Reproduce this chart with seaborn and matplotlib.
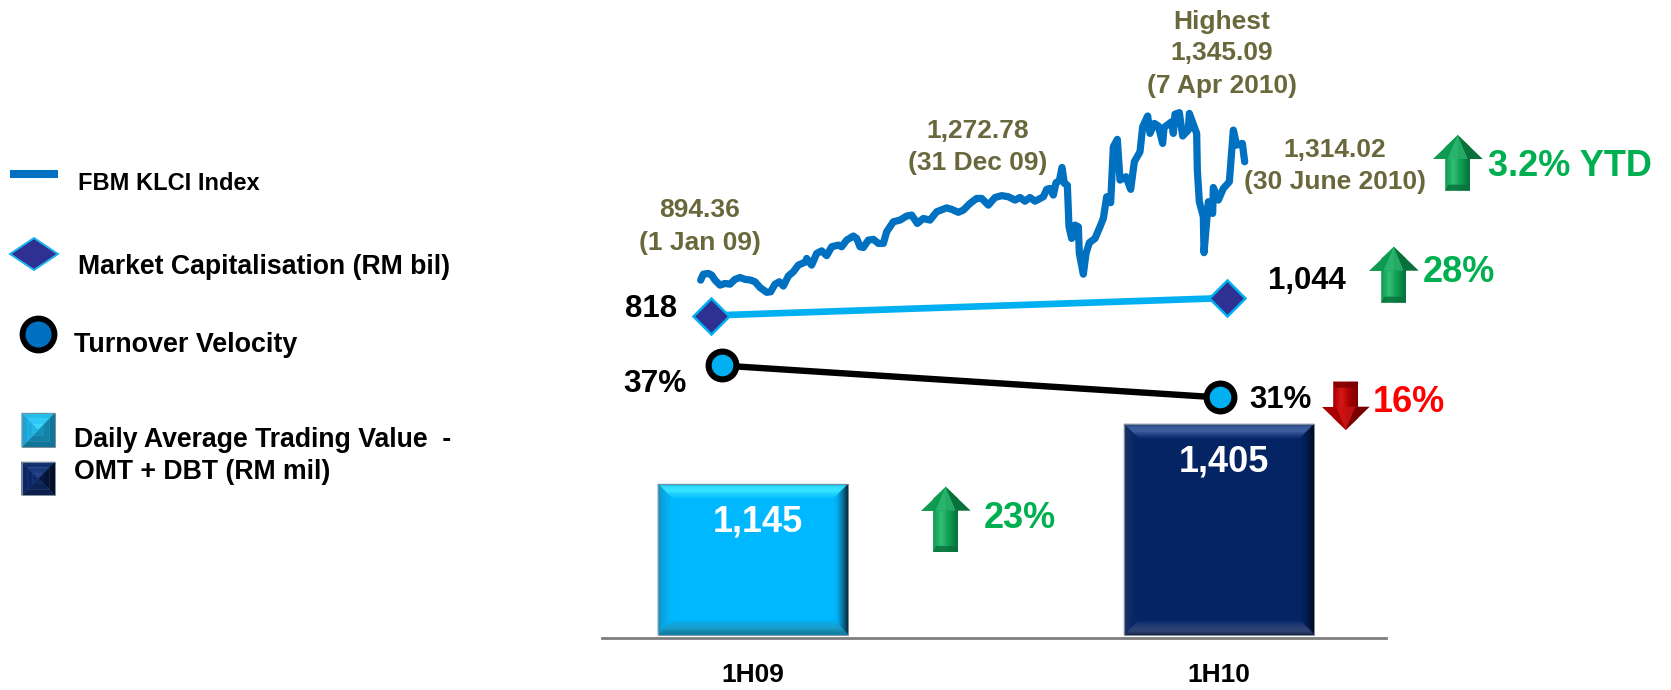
import matplotlib

matplotlib.use("Agg")
import matplotlib.pyplot as plt
import numpy as np
import seaborn as sns
from matplotlib.colors import LinearSegmentedColormap
from matplotlib.patches import Polygon

W, H = 1671, 690

periods = ["1H09", "1H10"]
trading_value = [1145, 1405]
market_cap = [818, 1044]
velocity = [37, 31]

# KLCI, x is just a position along the line
klci_x = [
    62, 70, 85, 95, 105, 120, 135, 150, 165, 180, 195, 212, 225, 240, 260, 272, 285, 298, 310, 325,
    340, 355, 378, 380, 395, 410, 425, 440, 455, 475, 485, 500, 520, 530, 540, 550, 565, 580, 595, 610,
    620, 640, 660, 680, 695, 712, 730, 750, 770, 800, 815, 835, 850, 870, 890, 905, 925, 945, 965, 985,
    1005, 1020, 1035, 1050, 1065, 1090, 1100, 1110, 1120, 1128, 1138, 1146, 1153, 1162, 1167, 1175, 1185,
    1195, 1198, 1210, 1218, 1228, 1245, 1260, 1270, 1280, 1292, 1300, 1312, 1320, 1338, 1352, 1363, 1380,
    1388, 1403, 1410, 1423, 1435, 1448, 1452, 1475, 1480, 1485, 1498, 1508, 1525, 1528, 1550, 1552, 1558,
    1570, 1572, 1585, 1598, 1600, 1615, 1630, 1648, 1660, 1670, 1687, 1694,
]
klci_y = [
    892, 908, 910, 905.5, 892, 878.5, 883, 881, 894, 899, 894, 892, 887.5, 872, 859, 860.5, 881, 887.5, 876, 903,
    914.5, 932.5, 941.5, 950.5, 932.5, 964, 971, 958, 982, 986.5, 982, 1000, 1011, 1004.5, 982, 980, 1000, 1002, 991, 991,
    1022.5, 1049.5, 1054, 1065, 1067.5, 1045, 1058.5, 1054, 1076.5, 1087, 1083, 1075, 1081, 1099, 1112.5, 1112.5, 1094.5, 1115, 1120, 1117,
    1108, 1115, 1105, 1115, 1105, 1117, 1137, 1139.5, 1121.5, 1155, 1160, 1196, 1153, 1148.5, 1036, 1004.5, 1040.5,
    1036, 964, 908, 964, 993, 1004.5, 1036, 1058.5, 1117, 1101, 1252, 1272, 1162, 1171, 1137, 1211.5, 1238.5,
    1306, 1335, 1288, 1315, 1308, 1261, 1304, 1319.5, 1288, 1340, 1344, 1281, 1297, 1342, 1288, 1189, 1103.5,
    1063, 966, 1103.5, 1072, 1142, 1108, 1139.5, 1157.5, 1297, 1256.5, 1261, 1211.5,
]

OLIVE = "#69683C"
GREEN = "#00B050"
RED = "#FF0000"
CYAN = "#00B8FF"
NAVY = "#042463"


def axes_at(fig, x0, x1, ytop, ybot, zorder=2):
    # box given in image pixels, y measured from the top
    ax = fig.add_axes([x0 / W, 1 - ybot / H, (x1 - x0) / W, (ybot - ytop) / H], zorder=zorder)
    ax.patch.set_alpha(0)
    return ax


def bevel(ov, x0, x1, ytop, ybot, ramps, bx, by, steps=12, zorder=3):
    # each side is a stack of thin trapezoids running from the outer colour inwards
    maps = [LinearSegmentedColormap.from_list("side", r) for r in ramps]
    for k in range(steps):
        a, b = k / steps, (k + 1) / steps
        o = (x0 + a * bx, x1 - a * bx, ytop + a * by, ybot - a * by)
        i = (x0 + b * bx, x1 - b * bx, ytop + b * by, ybot - b * by)
        sides = [
            [(o[0], o[2]), (o[1], o[2]), (i[1], i[2]), (i[0], i[2])],
            [(o[1], o[2]), (o[1], o[3]), (i[1], i[3]), (i[1], i[2])],
            [(o[1], o[3]), (o[0], o[3]), (i[0], i[3]), (i[1], i[3])],
            [(o[0], o[3]), (o[0], o[2]), (i[0], i[2]), (i[0], i[3])],
        ]
        for pts, cmap in zip(sides, maps):
            color = cmap((a + b) / 2)
            ov.add_patch(Polygon(pts, facecolor=color, edgecolor=color, lw=0.3, zorder=zorder))
    ov.add_patch(Polygon([(x0, ytop), (x1, ytop), (x1, ybot), (x0, ybot)], fill=False, edgecolor="#7F8F99", lw=0.7, zorder=zorder))


def arrow(ov, cx, tip, neck, end, head_hw, shaft_hw, edge, mid, light):
    pts = [
        (cx, tip), (cx + head_hw, neck), (cx + shaft_hw, neck), (cx + shaft_hw, end),
        (cx - shaft_hw, end), (cx - shaft_hw, neck), (cx - head_hw, neck),
    ]
    cmap = LinearSegmentedColormap.from_list("arrow", [mid, light, mid, edge])
    ys = sorted([tip, end])
    # shaft shading runs across, head shading is set by a separate strip
    ramp = np.linspace(0, 1, 64).reshape(1, -1)
    im = ov.imshow(ramp, cmap=cmap, extent=[cx - shaft_hw, cx + shaft_hw, ys[1], ys[0]], aspect="auto", zorder=4)
    im.set_clip_path(Polygon(pts, transform=ov.transData))
    ov.add_patch(Polygon([(cx, tip), (cx, neck), (cx - head_hw, neck)], color=mid, lw=0, zorder=5))
    ov.add_patch(Polygon([(cx, tip), (cx + head_hw, neck), (cx, neck)], color=edge, lw=0, zorder=5))
    ov.add_patch(Polygon([(cx, tip), (cx + head_hw * 0.4, neck), (cx - head_hw * 0.4, neck)], color=light, alpha=0.75, lw=0, zorder=5))
    lip = 6 if end > tip else -6
    ov.add_patch(Polygon([(cx - shaft_hw, end), (cx + shaft_hw, end), (cx + shaft_hw - 3, end - lip), (cx - shaft_hw + 3, end - lip)], color=edge, alpha=0.8, lw=0, zorder=5))


def up_arrow(ov, cx, tip, neck, end, head_hw=25, shaft_hw=12.5):
    arrow(ov, cx, tip, neck, end, head_hw, shaft_hw, "#08703A", "#0E9A50", "#2FBF74")


sns.set_theme(style="white")
plt.rcParams["font.family"] = ["Liberation Sans", "DejaVu Sans"]
plt.rcParams["font.weight"] = "bold"

fig = plt.figure(figsize=(W / 100, H / 100), dpi=100, facecolor="white")

# bars, the value axis does not start at zero in the original
ax_bar = axes_at(fig, 602, 1386, 424, 634.5, zorder=1)
sns.barplot(
    x=periods, y=trading_value, hue=periods, palette=[CYAN, NAVY],
    width=0.408, saturation=1, legend=False, ax=ax_bar,
)
ax_bar.set_xlim(-0.324, 1.358)
ax_bar.set_ylim(493, 1405)
ax_bar.set_yticks([])
ax_bar.set_ylabel("")
ax_bar.tick_params(axis="x", length=0, pad=18, labelsize=19, labelcolor="black")
sns.despine(ax=ax_bar, left=True)
ax_bar.spines["bottom"].set_position(("outward", 2.2))
ax_bar.spines["bottom"].set_color("#7F7F7F")
ax_bar.spines["bottom"].set_linewidth(2)

# KLCI
ax_klci = axes_at(fig, 700.67, 1244.67, 112.67, 292.33)
sns.lineplot(x=klci_x, y=klci_y, color="#0070C0", linewidth=5.2, estimator=None, sort=False, ax=ax_klci, clip_on=False)
ax_klci.lines[0].set_solid_joinstyle("round")
ax_klci.lines[0].set_solid_capstyle("round")
ax_klci.set_xlim(62, 1694)
ax_klci.set_ylim(859, 1344)
ax_klci.axis("off")

# market cap
ax_cap = axes_at(fig, 711, 1227, 298, 315.5, zorder=3)
sns.lineplot(
    x=[0, 1], y=market_cap, color="#00B0F0", linewidth=4.8, marker="D", markersize=18,
    markerfacecolor="#2E3192", markeredgecolor="#00B0F0", markeredgewidth=1.8,
    estimator=None, ax=ax_cap, clip_on=False,
)
ax_cap.set_xlim(0, 1)
ax_cap.set_ylim(818, 1044)
ax_cap.axis("off")

# turnover velocity
ax_vel = axes_at(fig, 721.5, 1220, 365.5, 397.5, zorder=3)
sns.lineplot(
    x=[0, 1], y=velocity, color="black", linewidth=4.6, marker="o", markersize=20,
    markerfacecolor="#00B0F0", markeredgecolor="black", markeredgewidth=4.4,
    estimator=None, ax=ax_vel, clip_on=False,
)
ax_vel.set_xlim(0, 1)
ax_vel.set_ylim(31, 37)
ax_vel.axis("off")

# everything else sits on a pixel-sized overlay
ov = fig.add_axes([0, 0, 1, 1], zorder=5)
ov.patch.set_alpha(0)
ov.axis("off")
ov.set_xlim(0, W)
ov.set_ylim(H, 0)

bar_ramps = [
    (
        ["#12A8E0", "#38E4FF", "#38E4FF", "#20D4FF", "#08BEFF"],
        ["#062A3A", "#0A4A66", "#0A80B0", "#00A8EC", CYAN],
        ["#14708F", "#1588AE", "#1A9CC8", "#12A4DC", "#08B0F0"],
        ["#1090C0", "#08A8E8", CYAN],
    ),
    (
        ["#1B3A78", "#3F5F9F", "#3F5F9F", "#274A8E", "#0A2A6A"],
        ["#050B1C", "#04102E", "#031A4A", "#03205A", NAVY],
        ["#1A2540", "#2F4474", "#2F4474", "#1C3670", "#08286A"],
        ["#24386A", "#0F2A66", NAVY],
    ),
]
for bar, ramps in zip(ax_bar.patches, bar_ramps):
    x0, _ = ov.transData.inverted().transform(ax_bar.transData.transform((bar.get_x(), 600)))
    x1, _ = ov.transData.inverted().transform(ax_bar.transData.transform((bar.get_x() + bar.get_width(), 600)))
    _, ytop = ov.transData.inverted().transform(ax_bar.transData.transform((0, bar.get_height())))
    bevel(ov, x0, x1, ytop, 634.5, ramps, 14, 14)

up_arrow(ov, 1457.7, 135, 159, 190.7)
up_arrow(ov, 1393.7, 246.7, 270.7, 302.7)
up_arrow(ov, 945.6, 486.7, 510.7, 552)
arrow(ov, 1345.7, 430, 406.7, 381.7, 24, 12.5, "#7A0000", "#A80000", "#D81818")

ov.set_xlim(0, W)
ov.set_ylim(H, 0)

olive_lines = [
    ("Highest", 1222, 22), ("1,345.09", 1222, 53), ("(7 Apr 2010)", 1222, 86),
    ("1,272.78", 978, 131), ("(31 Dec 09)", 978, 163),
    ("894.36", 700, 210), ("(1 Jan 09)", 700, 243),
    ("1,314.02", 1335, 150), ("(30 June 2010)", 1335, 182),
]
for label, x, y in olive_lines:
    ov.text(x, y, label, color=OLIVE, fontsize=19, ha="center", va="center", zorder=6)

value_labels = [
    ("818", 651, 309, "black", 22.4), ("1,044", 1307, 281, "black", 22.4),
    ("37%", 655, 383.5, "black", 22.8), ("31%", 1281, 400, "black", 22.4),
    ("3.2% YTD", 1570, 167, GREEN, 26), ("28%", 1459, 272, GREEN, 26),
    ("16%", 1408.5, 402, RED, 26), ("23%", 1019.5, 519, GREEN, 26),
    ("1,145", 757.5, 522, "white", 26), ("1,405", 1224, 462, "white", 26),
]
for label, x, y, color, size in value_labels:
    ov.text(x, y, label, color=color, fontsize=size, ha="center", va="center", zorder=6)

# hand-drawn legend, the original keys do not line up with a normal legend box
ov.plot([10, 58], [174, 174], color="#0070C0", lw=5.8, solid_capstyle="butt")
ov.add_patch(Polygon([(10, 254), (34, 238), (58, 254), (34, 270)], facecolor="#2E3192", edgecolor="#1EB4F0", lw=1.4))
ov.plot([38], [334], marker="o", ms=23, mfc="#0070C0", mec="black", mew=4.2, ls="none")
bevel(
    ov, 21.7, 55, 413, 447,
    (["#20B8E8", "#38DCFF"], ["#0F6F90", "#1595C0"], ["#0F6F90", "#1590B4"], ["#18A0D4", "#20B8E8"]),
    16.6, 17, steps=3,
)
bevel(
    ov, 21.7, 55, 462, 495,
    (["#0C2A68", "#2B4C8F"], ["#030C24", "#061A48"], ["#0A1C48", "#0E2A60"], ["#0A2260", "#0E2C70"]),
    16.6, 16.5, steps=3,
)

legend_lines = [
    ("FBM KLCI Index", 78, 184, 17), ("Market Capitalisation (RM bil)", 78, 267, 19.2),
    ("Turnover Velocity", 74, 345, 19.4), ("Daily Average Trading Value  -", 74, 440, 19.2),
    ("OMT + DBT (RM mil)", 74, 472, 19.2),
]
for label, x, y, size in legend_lines:
    ov.text(x, y, label, color="black", fontsize=size, ha="left", va="center", zorder=6)

fig.savefig("out.png", dpi=100)
plt.close(fig)
